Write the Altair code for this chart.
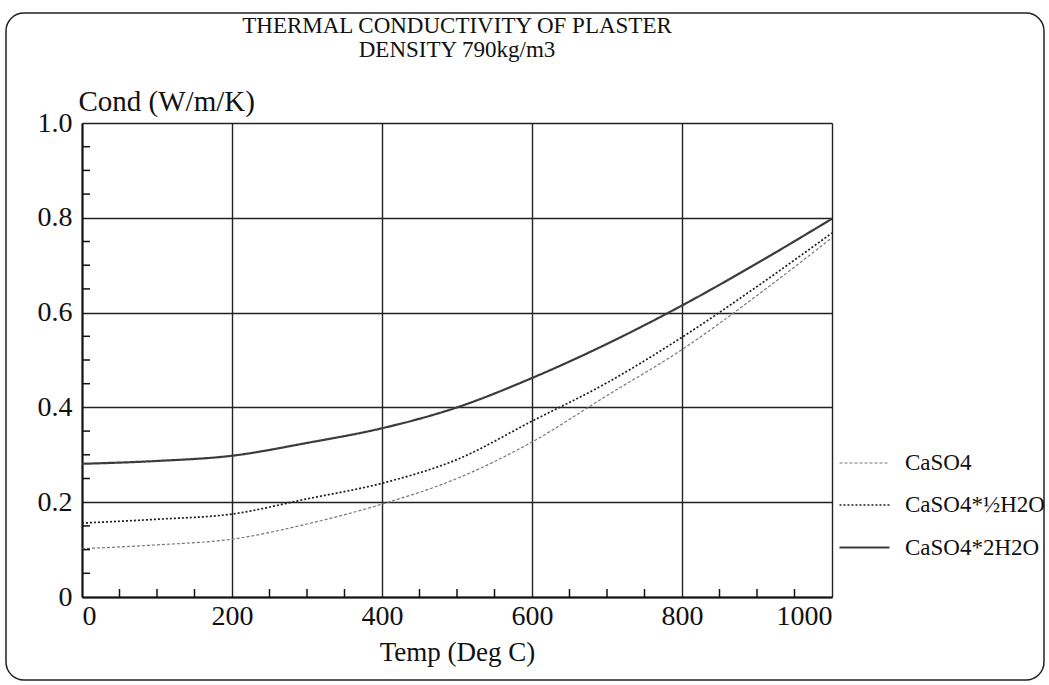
import altair as alt
import pandas as pd

# Temperature samples (Deg C) and conductivity (W/m/K) for each phase
temps = [0, 100, 200, 300, 400, 500, 600, 700, 800, 900, 1000]
caso4 = [0.102, 0.110, 0.122, 0.154, 0.196, 0.250, 0.327, 0.425, 0.522, 0.636, 0.758]
caso4_half = [0.156, 0.164, 0.175, 0.207, 0.240, 0.290, 0.371, 0.452, 0.548, 0.655, 0.768]
caso4_two = [0.281, 0.287, 0.298, 0.325, 0.356, 0.400, 0.462, 0.534, 0.615, 0.704, 0.798]
series_names = ["CaSO4", "CaSO4*½H2O", "CaSO4*2H2O"]

x_major = [0, 200, 400, 600, 800, 1000]
x_minor = [50, 100, 150, 250, 300, 350, 450, 500, 550, 650, 700, 750, 850, 900, 950]
y_major = [0, 0.2, 0.4, 0.6, 0.8, 1.0]
y_minor = [0.05, 0.1, 0.15, 0.25, 0.3, 0.35, 0.45, 0.5, 0.55, 0.65, 0.7, 0.75, 0.85, 0.9, 0.95]

rows = []
for name, vals in zip(series_names, [caso4, caso4_half, caso4_two]):
    for t, v in zip(temps, vals):
        rows.append({"Temp": t, "Cond": v, "Series": name})
df = pd.DataFrame(rows)

FONT = "Liberation Serif"
x_scale = alt.Scale(domain=[0, 1000], nice=False, zero=False)
y_scale = alt.Scale(domain=[0, 1], nice=False)

legend = alt.Legend(
    title=None, orient="none", legendX=756, legendY=314, padding=0,
    symbolType="stroke", symbolSize=2500, labelFont=FONT, labelFontSize=23,
    labelColor="#111", labelOffset=14, rowPadding=4,
)

lines = alt.Chart(df).mark_line(interpolate="monotone").encode(
    x=alt.X("Temp:Q", scale=x_scale, axis=alt.Axis(
        values=x_major, title="Temp (Deg C)", labelPadding=5,
        labelExpr="datum.value == 0 ? '0' : format(datum.value, 'd')",
        titleY=63, titleBaseline="alphabetic", titleFontSize=27,
    )),
    y=alt.Y("Cond:Q", scale=y_scale, axis=alt.Axis(
        values=y_major, title="Cond (W/m/K)", labelPadding=10,
        labelExpr="datum.value == 0 ? '0' : format(datum.value, '.1f')",
        titleAngle=0, titleAlign="left", titleX=-4, titleY=-13,
        titleBaseline="alphabetic", titleFontSize=29,
    )),
    color=alt.Color("Series:N", scale=alt.Scale(
        domain=series_names, range=["#777777", "#1e1e1e", "#3c3c3c"]), legend=legend),
    strokeDash=alt.StrokeDash("Series:N", scale=alt.Scale(
        domain=series_names, range=[[3, 2], [2, 2], [1, 0]]), legend=legend),
    strokeWidth=alt.StrokeWidth("Series:N", scale=alt.Scale(
        domain=series_names, range=[1.2, 2.2, 2.6]), legend=legend),
)

# Inward minor tick marks along both axes
x_ticks = alt.Chart(pd.DataFrame({"Temp": x_minor})).mark_rule(
    color="#111", strokeWidth=1.5
).encode(x=alt.X("Temp:Q", scale=x_scale), y=alt.value(474), y2=alt.value(466))

y_ticks = alt.Chart(pd.DataFrame({"Cond": y_minor})).mark_rule(
    color="#111", strokeWidth=1.5
).encode(y=alt.Y("Cond:Q", scale=y_scale), x=alt.value(0), x2=alt.value(8))

# Rounded outer frame
frame = alt.Chart(pd.DataFrame({"f": [0]})).mark_rect(
    fillOpacity=0, stroke="#222", strokeWidth=1.5, cornerRadius=18
).encode(x=alt.value(-76), x2=alt.value(962), y=alt.value(-110), y2=alt.value(557))

chart = alt.layer(frame, lines, x_ticks, y_ticks).properties(
    width=750, height=474,
    autosize=alt.AutoSizeParams(type="none"),
    padding={"left": 82, "top": 123, "right": 217, "bottom": 88},
    background="white",
    title=alt.TitleParams(
        text=["THERMAL CONDUCTIVITY OF PLASTER", "DENSITY 790kg/m3"],
        font=FONT, fontSize=23, fontWeight="normal", color="#111",
        anchor="middle", lineHeight=24, offset=4, dy=54,
    ),
).configure_axis(
    labelFont=FONT, labelFontSize=28, labelColor="#111",
    titleFont=FONT, titleFontSize=26, titleFontWeight="normal", titleColor="#111",
    domainColor="#111", domainWidth=2, ticks=False,
    grid=True, gridColor="#222", gridWidth=1.4, gridOpacity=1,
).configure_view(stroke=None)

chart.save("out.html", embed_options={"renderer": "svg", "actions": False})
